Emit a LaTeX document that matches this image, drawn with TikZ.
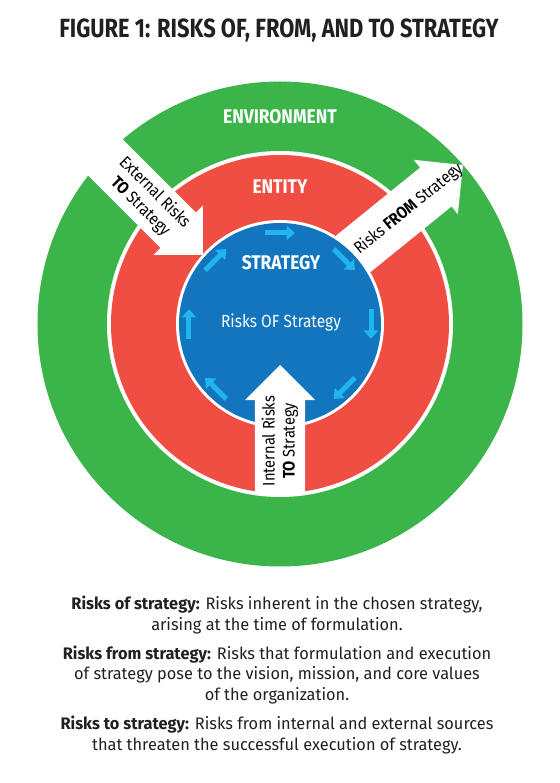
\documentclass[tikz,border=0pt]{standalone}
\usepackage{fontspec}
\setmainfont{Fira Sans}
\newfontfamily\titlefont[FakeStretch=0.83]{Fira Sans}
\newfontfamily\narrowfont[FakeStretch=0.88]{Fira Sans}
\newfontfamily\bodyfont[FakeStretch=0.98]{Fira Sans}
\usetikzlibrary{arrows.meta,calc}
\definecolor{envgreen}{RGB}{59,181,74}
\definecolor{entityred}{RGB}{240,78,66}
\definecolor{stratblue}{RGB}{18,117,189}
\definecolor{flowcyan}{RGB}{30,182,236}
\definecolor{inkblack}{RGB}{35,31,32}

\begin{document}
\begin{tikzpicture}[
    ringlabel/.style={font=\narrowfont\bfseries\fontsize{22.5}{26}\selectfont, text=white, inner sep=0pt},
    arrowtext/.style={font=\narrowfont\fontsize{19}{22.8}\selectfont, align=center, inner sep=0pt, text=black},
    deftext/.style={font=\bodyfont\fontsize{19}{22.8}\selectfont, align=center, inner sep=0pt, text=inkblack},
    flow/.style={draw=flowcyan, line width=0.2cm, -{Triangle[length=0.34cm,width=0.56cm]}}
  ]
    \useasboundingbox (-11.2,-18.36) rectangle (11.16,12.96);

    % =========================================================
    % TITLE
    % =========================================================
    \node[font=\titlefont\bfseries\fontsize{30}{32}\selectfont, text=inkblack, inner sep=0pt] (title) at (-0.04, 11.76) {FIGURE 1: RISKS OF, FROM, AND TO STRATEGY};

    % =========================================================
    % RINGS
    % =========================================================
    \fill[envgreen] (0,0) circle (9.7);
    \fill[white] (0,0) circle (6.92);
    \fill[entityred] (0,0) circle (6.76);

    % External risks arrow (into the entity)
    \begin{scope}[shift={(-3.08, 2.76)}, rotate=-45]
        \fill[white] (0,0) -- (-1.4,1.4) -- (-1.4,1.0) -- (-6.4,1.0) -- (-6.4,-1.0) -- (-1.4,-1.0) -- (-1.4,-1.4) -- cycle;
        \node[arrowtext, rotate=-45] (extText) at (-3.14, 0) {External Risks\\\textbf{TO} Strategy};
    \end{scope}

    % Risks from strategy arrow (out to the environment)
    \begin{scope}[shift={(7.32, 6.36)}, rotate=39]
        \fill[white] (0,0) -- (-1.4,1.4) -- (-1.4,1.0) -- (-7.0,1.0) -- (-7.0,-1.0) -- (-1.4,-1.0) -- (-1.4,-1.4) -- cycle;
        \node[arrowtext, rotate=39] (fromText) at (-2.8, 0) {Risks \textbf{FROM} Strategy};
    \end{scope}

    % Strategy core
    \fill[white] (0,0) circle (4.16);
    \fill[stratblue] (0,0) circle (4.04);

    % Internal risks arrow (up into the strategy)
    \begin{scope}[shift={(0, -1.64)}, rotate=90]
        \fill[white] (0,0) -- (-1.4,1.4) -- (-1.4,1.0) -- (-5.2,1.0) -- (-5.2,-1.0) -- (-1.4,-1.0) -- (-1.4,-1.4) -- cycle;
        \node[arrowtext, rotate=90] (intText) at (-3.04, 0) {Internal Risks\\\textbf{TO} Strategy};
    \end{scope}

    % Clockwise flow arrows
    \foreach \a in {90,45,0,-45,-135,180,135}
        \draw[flow] ($(\a:3.64)+({\a+90}:0.6)$) -- ($(\a:3.64)+({\a-90}:0.6)$);

    % Ring labels
    \node[ringlabel] (envLabel) at (0, 8.3) {ENVIRONMENT};
    \node[ringlabel] (entityLabel) at (0, 5.5) {ENTITY};
    \node[ringlabel] (strategyLabel) at (0.04, 2.44) {STRATEGY};
    \node[ringlabel, font=\narrowfont\fontsize{20}{24}\selectfont] (ofLabel) at (0.04, 0.04) {Risks OF Strategy};

    % =========================================================
    % DEFINITIONS
    % =========================================================
    \node[deftext] (defOf) at (-0.12, -11.64) {\textbf{Risks of strategy:} Risks inherent in the chosen strategy,\\arising at the time of formulation.};
    \node[deftext] (defFrom) at (-0.12, -14.04) {\textbf{Risks from strategy:} Risks that formulation and execution\\of strategy pose to the vision, mission, and core values\\of the organization.};
    \node[deftext] (defTo) at (-0.12, -16.44) {\textbf{Risks to strategy:} Risks from internal and external sources\\that threaten the successful execution of strategy.};
\end{tikzpicture}
\end{document}
